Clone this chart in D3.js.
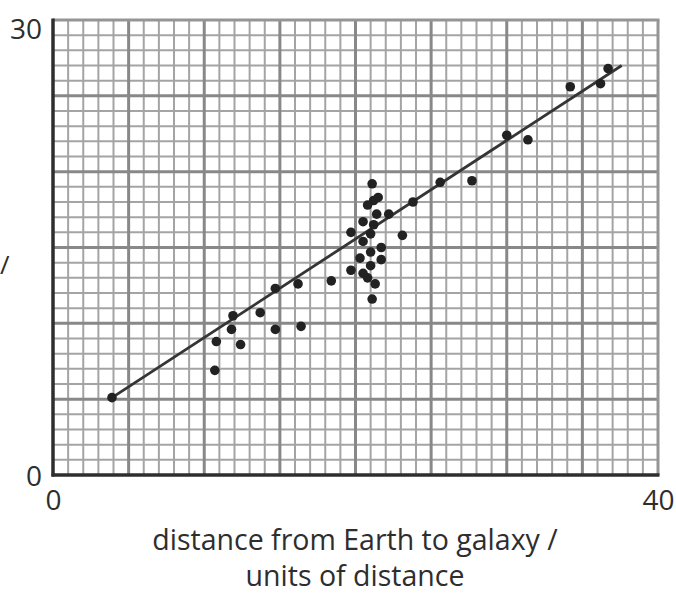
<!DOCTYPE html>
<html>
  <head>
    <meta charset="utf-8">
    <title>Distance vs velocity</title>
    <style>
      body { margin: 0; background: #fff; }
      text { font-family: "Open Sans", "Noto Sans", sans-serif; fill: #2e2e2e; }
      .minor { stroke: #a4a4a4; stroke-width: 2px; }
      .major { stroke: #888; stroke-width: 3px; }
      .frame { stroke: #959595; stroke-width: 3px; }
      .axis-line { stroke: #2e2e2e; stroke-width: 3.5px; }
      .fit { stroke: #353535; stroke-width: 2.8px; fill: none; }
      .dot { fill: #222; }
    </style>
  </head>
  <body>
    <script src="https://d3js.org/d3.v7.min.js"></script>
    <script>
      // galaxy data
      const distance = [3.9, 10.7, 10.8, 12.4, 11.8, 11.9, 13.7, 14.7, 16.4, 14.7, 16.2, 18.4,
        21.1, 21.5, 21.2, 20.8, 21.4, 22.2, 20.5, 21.2, 19.7, 21.0, 20.5, 21.7, 21.0, 20.3,
        21.7, 21.0, 19.7, 20.5, 20.8, 21.3, 21.1, 23.1, 23.8, 25.6, 27.7, 30.0, 31.4, 34.2,
        36.2, 36.7];
      const velocity = [5.1, 6.9, 8.8, 8.6, 9.6, 10.5, 10.7, 9.6, 9.8, 12.3, 12.6, 12.8,
        19.2, 18.3, 18.1, 17.8, 17.2, 17.2, 16.7, 16.5, 16.0, 15.9, 15.4, 15.0, 14.7, 14.3,
        14.2, 13.8, 13.5, 13.3, 13.0, 12.6, 11.6, 15.8, 18.0, 19.3, 19.4, 22.4, 22.1, 25.6,
        25.8, 26.8];
      // best-fit line end points
      const fitX = [3.9, 37.6];
      const fitY = [5.1, 27.0];

      const xTicks = [0, 40];
      const yTicks = [0, 30];
      const xLabel = ["distance from Earth to galaxy /", "units of distance"];
      const yLabel = "/";

      const width = 676, height = 593;
      const plotL = 53, plotR = 658, plotT = 20, plotB = 475;

      const svg = d3.select("body").append("svg")
        .attr("width", width)
        .attr("height", height);

      const x = d3.scaleLinear().domain([0, 40]).range([plotL, plotR]);
      const y = d3.scaleLinear().domain([0, 30]).range([plotB, plotT]);

      const grid = svg.append("g");

      // minor squares, 1 unit
      grid.selectAll(".vminor")
        .data(d3.range(1, 40).filter(d => d % 5 !== 0))
        .enter().append("line")
        .attr("class", "minor")
        .attr("x1", d => x(d)).attr("x2", d => x(d))
        .attr("y1", plotT).attr("y2", plotB);

      grid.selectAll(".hminor")
        .data(d3.range(1, 30).filter(d => d % 5 !== 0))
        .enter().append("line")
        .attr("class", "minor")
        .attr("x1", plotL).attr("x2", plotR)
        .attr("y1", d => y(d)).attr("y2", d => y(d));

      // major lines every 5
      grid.selectAll(".vmajor")
        .data(d3.range(5, 40, 5))
        .enter().append("line")
        .attr("class", "major")
        .attr("x1", d => x(d)).attr("x2", d => x(d))
        .attr("y1", plotT).attr("y2", plotB);

      grid.selectAll(".hmajor")
        .data(d3.range(5, 30, 5))
        .enter().append("line")
        .attr("class", "major")
        .attr("x1", plotL).attr("x2", plotR)
        .attr("y1", d => y(d)).attr("y2", d => y(d));

      // top and right edge
      grid.append("line").attr("class", "frame")
        .attr("x1", plotL).attr("x2", plotR + 1.5).attr("y1", plotT).attr("y2", plotT);
      grid.append("line").attr("class", "frame")
        .attr("x1", plotR).attr("x2", plotR).attr("y1", plotT).attr("y2", plotB);

      // axes
      const xAxis = svg.append("g")
        .attr("transform", `translate(0,${plotB})`)
        .call(d3.axisBottom(x).tickValues(xTicks).tickFormat(d3.format("d")).tickSize(0));
      xAxis.select(".domain").remove();
      xAxis.selectAll("text")
        .attr("dy", null)
        .attr("y", 35)
        .attr("font-size", 28)
        .attr("fill", "#2e2e2e")
        .style("font-family", "'Open Sans', sans-serif");

      const yAxis = svg.append("g")
        .attr("transform", `translate(${plotL},0)`)
        .call(d3.axisLeft(y).tickValues(yTicks).tickFormat(d3.format("d")).tickSize(0).tickPadding(11));
      yAxis.select(".domain").remove();
      yAxis.selectAll("text")
        .attr("dy", "0.36em")
        .attr("font-size", 28)
        .attr("fill", "#2e2e2e")
        .style("font-family", "'Open Sans', sans-serif");
      yAxis.selectAll(".tick")
        .filter(d => d === 30)
        .select("text")
        .attr("y", 8);

      svg.append("line").attr("class", "axis-line")
        .attr("x1", plotL).attr("x2", plotL)
        .attr("y1", plotT - 1.5).attr("y2", plotB + 1.5);
      svg.append("line").attr("class", "axis-line")
        .attr("x1", plotL - 1.5).attr("x2", plotR + 1.5)
        .attr("y1", plotB).attr("y2", plotB);

      // best-fit line
      svg.append("line").attr("class", "fit")
        .attr("x1", x(fitX[0])).attr("y1", y(fitY[0]))
        .attr("x2", x(fitX[1])).attr("y2", y(fitY[1]));

      // points
      svg.selectAll(".dot")
        .data(d3.zip(distance, velocity))
        .enter().append("circle")
        .attr("class", "dot")
        .attr("r", 4.8)
        .attr("cx", d => x(d[0]))
        .attr("cy", d => y(d[1]));

      // axis titles
      svg.selectAll(".xtitle")
        .data(xLabel)
        .enter().append("text")
        .attr("class", "xtitle")
        .attr("x", 355)
        .attr("y", (d, i) => 550 + i * 36)
        .attr("text-anchor", "middle")
        .attr("font-size", 28.5)
        .text(d => d);

      svg.append("text")
        .attr("x", 0)
        .attr("y", 274)
        .attr("font-size", 26)
        .text(yLabel);
    </script>
  </body>
</html>
